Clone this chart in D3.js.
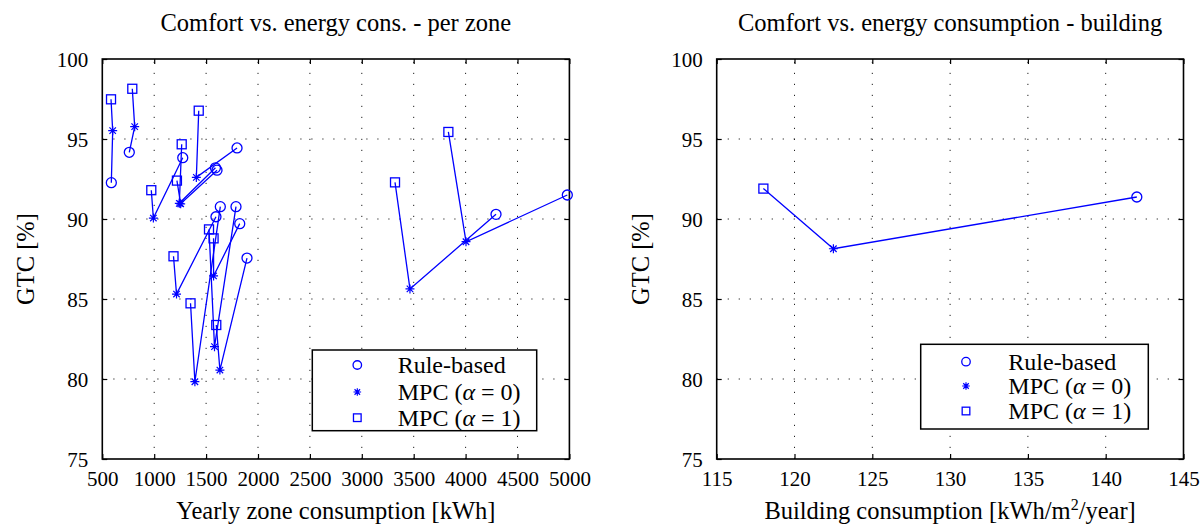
<!DOCTYPE html>
<html><head><meta charset="utf-8">
<script src="https://cdn.jsdelivr.net/npm/d3@7"></script>
<style>
body{margin:0;background:#fff}
svg{display:block}
svg text{font-family:"Liberation Serif","DejaVu Serif","Noto Serif",serif !important;fill:#000}
</style>
</head><body>
<svg id="c" width="1203" height="527"></svg>
<script>
// ---- Data: per zone (left panel) ----
const zoneRuleX = [587, 760, 1798, 1275, 1590, 1605, 1595, 1824, 1637, 1788, 1894, 4293, 4980];
const zoneRuleY = [92.27, 94.17, 94.44, 93.83, 93.2, 93.05, 90.14, 89.71, 90.77, 90.77, 87.56, 90.29, 91.5];
const zoneMpc0X = [600, 812, 1406, 992, 1242, 1255, 1215, 1572, 1392, 1581, 1633, 3464, 4004];
const zoneMpc0Y = [95.52, 95.77, 92.6, 90.06, 90.98, 90.95, 85.31, 86.44, 79.83, 82.02, 80.56, 85.63, 88.58];
const zoneMpc1X = [584, 789, 1429, 972, 1265, 1219, 1186, 1572, 1350, 1528, 1598, 3320, 3834];
const zoneMpc1Y = [97.48, 98.14, 96.77, 91.8, 94.67, 92.4, 87.67, 88.79, 84.73, 89.35, 83.375, 92.29, 95.44];

// ---- Data: building (right panel) ----
const bldRuleX = [142.0];
const bldRuleY = [91.375];
const bldMpc0X = [122.5];
const bldMpc0Y = [88.14];
const bldMpc1X = [118.0];
const bldMpc1Y = [91.9];

// ---- Axis ticks ----
const zoneXTicks = [500, 1000, 1500, 2000, 2500, 3000, 3500, 4000, 4500, 5000];
const bldXTicks = [115, 120, 125, 130, 135, 140, 145];
const gtcTicks = [75, 80, 85, 90, 95, 100];

const titles = ["Comfort vs. energy cons. - per zone", "Comfort vs. energy consumption - building"];
const xLabels = ["Yearly zone consumption [kWh]", null];
const yLabel = "GTC [%]";
const legendNames = ["Rule-based", "MPC0", "MPC1"];

const BLUE = "#0000ff";
const svg = d3.select("#c");

function marker(g, type, x, y, s) {
  if (type === "circle") {
    g.append("circle").attr("cx", x).attr("cy", y).attr("r", 5 * s)
      .attr("fill", "none").attr("stroke", BLUE).attr("stroke-width", 1.3);
  } else if (type === "square") {
    const h = 4.5 * s;
    g.append("rect").attr("x", x - h).attr("y", y - h).attr("width", 2 * h).attr("height", 2 * h)
      .attr("fill", "none").attr("stroke", BLUE).attr("stroke-width", 1.3);
  } else {
    const h = 4.5 * s, d = h * 0.72;
    const p = `M${x - h},${y}L${x + h},${y}M${x},${y - h}L${x},${y + h}M${x - d},${y - d}L${x + d},${y + d}M${x - d},${y + d}L${x + d},${y - d}`;
    g.append("path").attr("d", p).attr("stroke", BLUE).attr("stroke-width", 1.2).attr("fill", "none");
  }
}

function panel(o) {
  const x = d3.scaleLinear().domain(o.xDomain).range([o.left, o.right]);
  const y = d3.scaleLinear().domain([75, 100]).range([o.bottom, o.top]);
  const g = svg.append("g");

  // grid
  const grid = g.append("g").attr("stroke", "#222").attr("stroke-width", 1).attr("stroke-dasharray", "1.2,9.8");
  o.xTicks.slice(1, -1).forEach(t => grid.append("line").attr("x1", x(t)).attr("x2", x(t)).attr("y1", o.bottom).attr("y2", o.top));
  gtcTicks.slice(1, -1).forEach(t => grid.append("line").attr("y1", y(t)).attr("y2", y(t)).attr("x1", o.left).attr("x2", o.right));

  // axes with inward ticks on all sides
  const axB = d3.axisBottom(x).tickValues(o.xTicks).tickSizeInner(-5).tickSizeOuter(0).tickPadding(12).tickFormat(d3.format("d"));
  const axT = d3.axisTop(x).tickValues(o.xTicks).tickSizeInner(-5).tickSizeOuter(0).tickFormat("");
  const axL = d3.axisLeft(y).tickValues(gtcTicks).tickSizeInner(-5).tickSizeOuter(0).tickPadding(14).tickFormat(d3.format("d"));
  const axR = d3.axisRight(y).tickValues(gtcTicks).tickSizeInner(-5).tickSizeOuter(0).tickFormat("");
  const gb = g.append("g").attr("transform", `translate(0,${o.bottom})`).call(axB);
  const gt = g.append("g").attr("transform", `translate(0,${o.top})`).call(axT);
  const gl = g.append("g").attr("transform", `translate(${o.left},0)`).call(axL);
  const gr = g.append("g").attr("transform", `translate(${o.right},0)`).call(axR);
  [gb, gt, gl, gr].forEach(a => {
    a.attr("font-family", null);
    a.select(".domain").remove();
    a.selectAll("line").attr("stroke", "#000").attr("stroke-width", 1.2);
    a.selectAll("text").attr("font-size", 21).attr("fill", "#000");
  });
  gl.selectAll("text").attr("dy", "0.35em");

  // frame
  g.append("rect").attr("x", o.left).attr("y", o.top).attr("width", o.right - o.left).attr("height", o.bottom - o.top)
    .attr("fill", "none").attr("stroke", "#000").attr("stroke-width", 1.6);

  // data lines: MPC(a=1) -> MPC(a=0) -> Rule-based
  const dg = g.append("g");
  const line = d3.line().x(d => x(d[0])).y(d => y(d[1]));
  for (let i = 0; i < o.rx.length; i++) {
    const pts = [[o.m1x[i], o.m1y[i]], [o.m0x[i], o.m0y[i]], [o.rx[i], o.ry[i]]];
    dg.append("path").attr("d", line(pts)).attr("fill", "none").attr("stroke", BLUE).attr("stroke-width", 1.3);
  }
  for (let i = 0; i < o.rx.length; i++) {
    marker(dg, "circle", x(o.rx[i]), y(o.ry[i]), 1);
    marker(dg, "star", x(o.m0x[i]), y(o.m0y[i]), 1);
    marker(dg, "square", x(o.m1x[i]), y(o.m1y[i]), 1);
  }

  // title
  g.append("text").attr("x", (o.left + o.right) / 2).attr("y", 31).attr("text-anchor", "middle")
    .attr("font-size", 24.5).text(o.title);

  // y label
  g.append("text").attr("transform", `translate(${o.left - 68},${(o.top + o.bottom) / 2}) rotate(-90)`)
    .attr("text-anchor", "middle").attr("font-size", 24.5).text(yLabel);

  // x label
  const xl = g.append("text").attr("x", (o.left + o.right) / 2).attr("y", 519).attr("text-anchor", "middle").attr("font-size", 24.5);
  if (o.xLabel) xl.text(o.xLabel);
  else {
    xl.append("tspan").text("Building consumption [kWh/m");
    xl.append("tspan").attr("font-size", 16).attr("dy", -9).text("2");
    xl.append("tspan").attr("dy", 9).text("/year]");
  }

  // legend
  const L = o.legend;
  const lg = g.append("g");
  lg.append("rect").attr("x", L.x0).attr("y", L.y0).attr("width", L.x1 - L.x0).attr("height", L.y1 - L.y0)
    .attr("fill", "#fff").attr("stroke", "#000").attr("stroke-width", 1.5);
  const types = ["circle", "star", "square"];
  legendNames.forEach((n, i) => {
    const ry = L.rows[i];
    marker(lg, types[i], L.mx, ry, 0.85);
    const t = lg.append("text").attr("x", L.tx).attr("y", ry).attr("dy", "0.35em").attr("font-size", 24);
    if (n === "Rule-based") t.text(n);
    else {
      t.append("tspan").text("MPC (");
      t.append("tspan").attr("font-style", "italic").text("α");
      t.append("tspan").text(" = " + (n === "MPC0" ? "0" : "1") + ")");
    }
  });
}

panel({
  left: 102.3, right: 569.4, top: 59, bottom: 459,
  xDomain: [500, 5000], xTicks: zoneXTicks,
  rx: zoneRuleX, ry: zoneRuleY, m0x: zoneMpc0X, m0y: zoneMpc0Y, m1x: zoneMpc1X, m1y: zoneMpc1Y,
  title: titles[0], xLabel: xLabels[0],
  legend: { x0: 312.3, y0: 350, x1: 536.7, y1: 430.7, mx: 357.3, tx: 397.7, rows: [365, 392, 417.7] }
});
panel({
  left: 716.7, right: 1183.5, top: 59, bottom: 459,
  xDomain: [115, 145], xTicks: bldXTicks,
  rx: bldRuleX, ry: bldRuleY, m0x: bldMpc0X, m0y: bldMpc0Y, m1x: bldMpc1X, m1y: bldMpc1Y,
  title: titles[1], xLabel: xLabels[1],
  legend: { x0: 920.7, y0: 344.3, x1: 1148.3, y1: 429, mx: 966, tx: 1008.3, rows: [361.7, 386, 411] }
});
</script>
</body></html>
